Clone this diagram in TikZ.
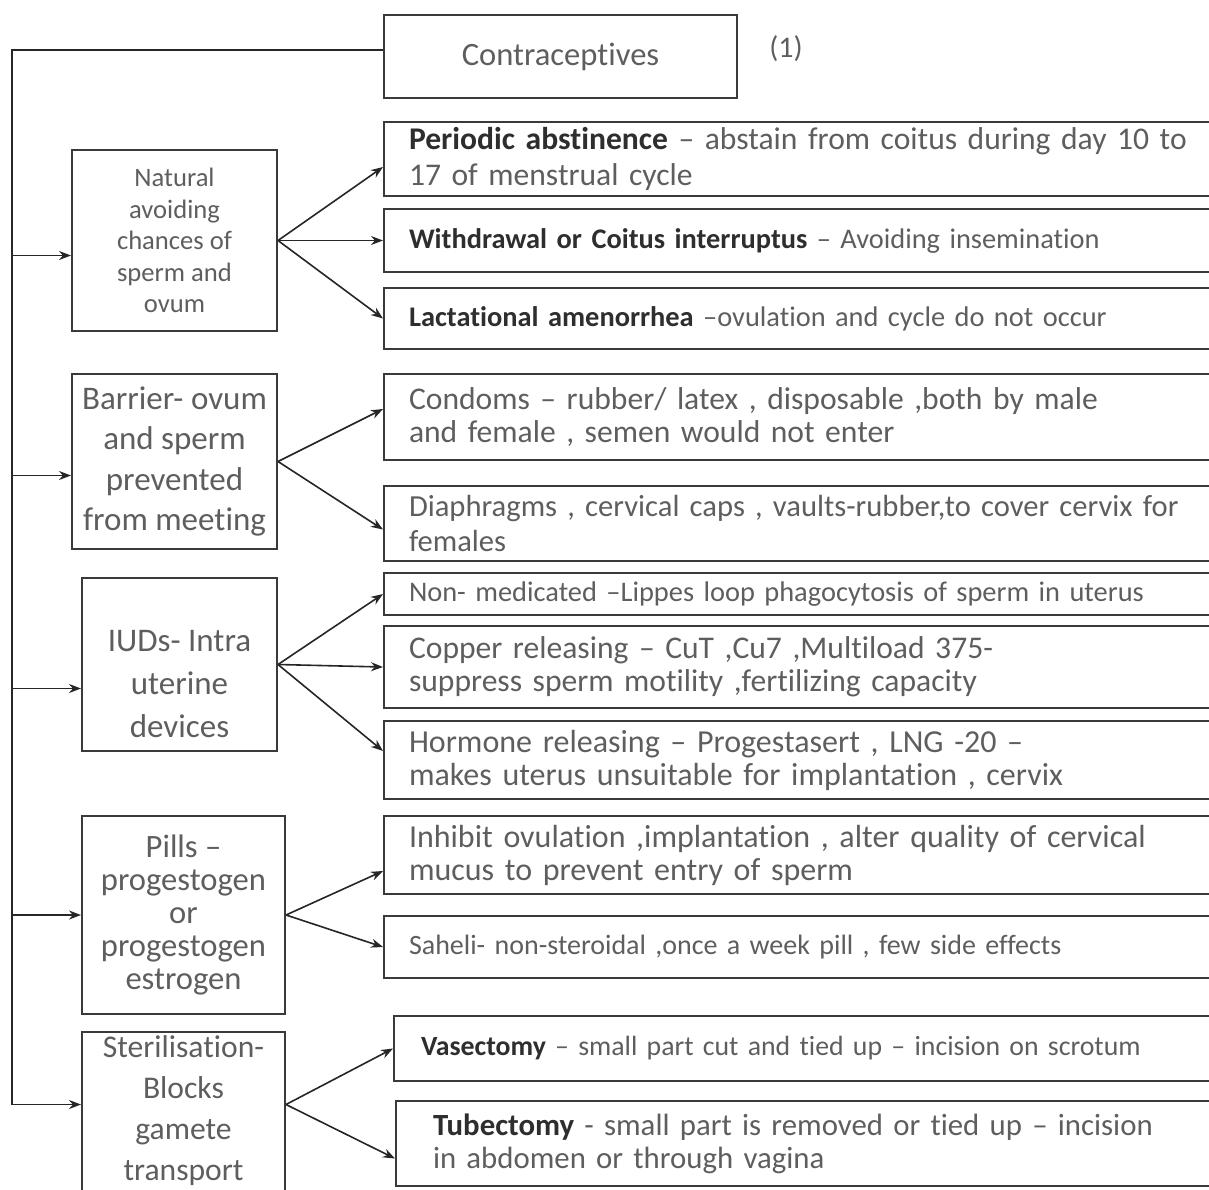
\documentclass[tikz,border=0pt]{standalone}
\usepackage{fontspec}
\setmainfont{Carlito}[Ligatures=NoCommon]
\usetikzlibrary{arrows.meta,positioning}
\definecolor{boxline}{HTML}{3A3A3A}
\definecolor{bodytext}{HTML}{5E5E5E}
\definecolor{headtext}{HTML}{2E2E2E}
\newcommand{\hd}[1]{\textbf{\color{headtext}#1}}
\newcommand{\fs}[2]{\fontsize{#1}{#2}\selectfont}

\begin{document}
\begin{tikzpicture}[x=0.5pt,y=-0.5pt,
  box/.style={draw=boxline, line width=1pt, inner sep=0pt, anchor=north west, text=bodytext},
  cat/.style={box, align=center, font=\fs{13}{16}},
  item/.style={box, align=left, inner xsep=12.5pt, text width=400pt, font=\fs{15.8}{16.5}},
  link/.style={line width=0.8pt, black!85},
  arr/.style={link, -{Stealth[length=6pt,width=4.5pt]}}]
  \useasboundingbox (0,0) rectangle (1209,1189);
  \clip (0,0) rectangle (1209,1189);

  % top box
  \node[box, minimum width=176.5pt, minimum height=41.5pt, font=\fs{16.3}{19}] (contra) at (383,14) {Contraceptives};
  \node[text=bodytext, font=\fs{15}{18}] (num) at (786,49) {(1)};

  % categories
  \node[cat, minimum width=102.5pt, minimum height=90.5pt, font=\fs{13.3}{15.8}] (natural) at (71,149)
    {Natural\\avoiding\\chances of\\sperm and\\ovum};
  \node[cat, minimum width=102.5pt, minimum height=87.5pt, font=\fs{16.5}{20.3}] (barrier) at (71,373)
    {Barrier- ovum\\and sperm\\prevented\\from meeting};
  \node[box, minimum width=97.5pt, minimum height=86.5pt] (iud) at (81,577) {};
  \node[align=center, text=bodytext, font=\fs{16.5}{21.5}, inner sep=0pt] (iudtext) at ([yshift=-10pt]iud.center)
    {IUDs- Intra\\uterine\\devices};
  \node[cat, minimum width=101.5pt, minimum height=99pt, font=\fs{16.3}{16.5}] (pills) at (81,815)
    {Pills –\\progestogen\\or\\progestogen\\estrogen};
  \node[box, minimum width=101.5pt, minimum height=84.5pt] (steril) at (81,1031) {};
  \node[align=center, text=bodytext, font=\fs{15.8}{20.6}, inner sep=0pt] (steriltext) at ([yshift=3pt]steril.center)
    {Sterilisation-\\Blocks\\gamete\\transport};

  % methods
  \node[item, minimum height=37pt, font=\fs{15.8}{18}] (periodic) at (383,121)
    {\hd{Periodic abstinence} – abstain from coitus during day 10 to\\17 of menstrual cycle};
  \node[item, minimum height=31.5pt, font=\fs{14.2}{16}] (withdrawal) at (383,208)
    {\hd{Withdrawal or Coitus interruptus} – Avoiding insemination};
  \node[item, minimum height=30.5pt, font=\fs{14.2}{16}] (lactation) at (383,287)
    {\hd{Lactational amenorrhea} –ovulation and cycle do not occur};
  \node[item, minimum height=43pt] (condom) at (383,373)
    {Condoms – rubber/ latex , disposable ,both by male\\and female , semen would not enter};
  \node[item, minimum height=37.5pt, font=\fs{15.3}{17.5}] (diaphragm) at (383,485)
    {Diaphragms , cervical caps , vaults-rubber,to cover cervix for\\females};
  \node[item, minimum height=21pt, font=\fs{14.2}{16}] (nonmed) at (383,572)
    {Non- medicated –Lippes loop phagocytosis of sperm in uterus};
  \node[item, minimum height=41pt] (copper) at (383,625)
    {Copper releasing – CuT ,Cu7 ,Multiload 375-\\suppress sperm motility ,fertilizing capacity};
  \node[item, minimum height=39pt, font=\fs{16}{16.5}] (hormone) at (383,720)
    {Hormone releasing – Progestasert , LNG -20 –\\makes uterus unsuitable for implantation , cervix};
  \node[item, minimum height=39pt, font=\fs{16}{16.5}] (inhibit) at (383,815)
    {Inhibit ovulation ,implantation , alter quality of cervical\\mucus to prevent entry of sperm};
  \node[item, minimum height=31pt, font=\fs{14}{16}] (saheli) at (383,915)
    {Saheli- non-steroidal ,once a week pill , few side effects};
  \node[item, minimum height=32.5pt, inner xsep=13.5pt, font=\fs{13.9}{16}] (vasect) at (393,1015)
    {\hd{Vasectomy} – small part cut and tied up – incision on scrotum};
  \node[item, minimum height=42.5pt, inner xsep=18.5pt, font=\fs{15.4}{16.5}] (tubect) at (395,1100)
    {\hd{Tubectomy} - small part is removed or tied up – incision\\in abdomen or through vagina};

  % trunk and branches
  \coordinate (trunk) at (12,49);
  \draw[arr] ([yshift=3.25pt]contra.west) -| (trunk) |- ([yshift=6pt]steril.west);
  \draw[arr] ([yshift=-7.5pt]natural.west -| trunk) -- ([yshift=-7.5pt]natural.west);
  \draw[arr] ([yshift=-7pt]barrier.west -| trunk) -- ([yshift=-7pt]barrier.west);
  \draw[arr] ([yshift=-12pt]iud.west -| trunk) -- ([yshift=-12pt]iud.west);
  \draw[arr] (pills.west -| trunk) -- (pills.west);

  % fan-out arrows
  \draw[arr] (natural.east) -- ([yshift=-4pt]periodic.west);
  \draw[arr] (natural.east) -- (withdrawal.west);
  \draw[arr] (natural.east) -- (lactation.west);
  \draw[arr] (barrier.east) -- ([yshift=4pt]condom.west);
  \draw[arr] (barrier.east) -- ([yshift=-3pt]diaphragm.west);
  \draw[arr] (iud.east) -- (nonmed.west);
  \draw[arr] (iud.east) -- (copper.west);
  \draw[arr] (iud.east) -- ([yshift=4.5pt]hormone.west);
  \draw[arr] (pills.east) -- ([yshift=-8pt]inhibit.west);
  \draw[arr] (pills.east) -- (saheli.west);
  \draw[arr] ([yshift=6pt]steril.east) -- (vasect.west);
  \draw[arr] ([yshift=6pt]steril.east) -- ([yshift=-7.5pt]tubect.west);
\end{tikzpicture}
\end{document}
